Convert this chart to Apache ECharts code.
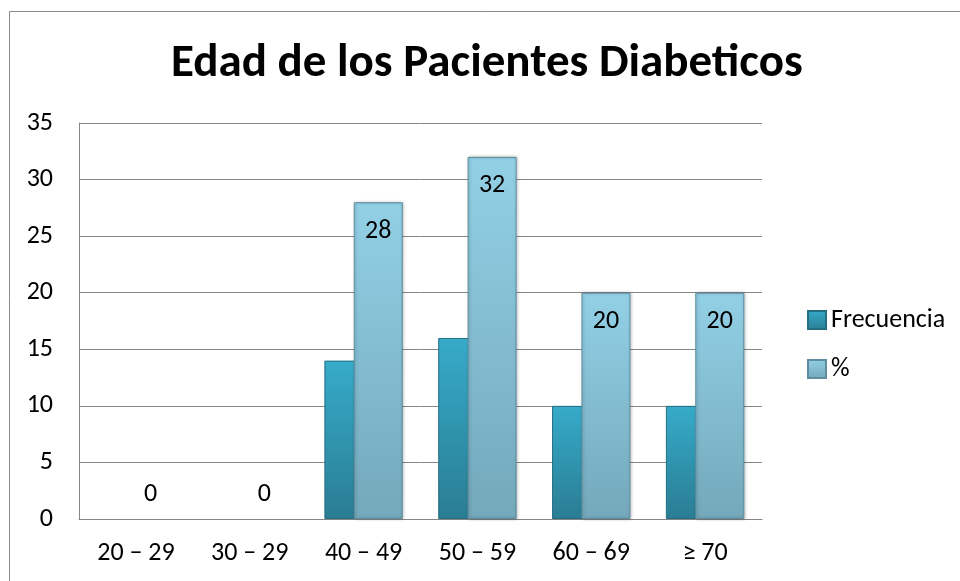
<!DOCTYPE html>
<html>
<head>
<meta charset="utf-8">
<script src="https://cdn.jsdelivr.net/npm/echarts@6/dist/echarts.min.js"></script>
<style>
  html, body { margin: 0; padding: 0; background: #fff; }
  #chart { width: 960px; height: 581px; }
</style>
</head>
<body>
<div id="chart"></div>
<script>
// rangos de edad
var categories = ["20 – 29", "30 – 29", "40 – 49", "50 – 59", "60 – 69", "≥ 70"];
var frecuencia = [0, 0, 14, 16, 10, 10];
var porcentaje = [0, 0, 28, 32, 20, 20];
var yTicks = { min: 0, max: 35, interval: 5 };

var FONT = "Carlito, Lato, sans-serif";

var chart = echarts.init(document.getElementById("chart"));

// barras en cero: sin borde; la etiqueta del % va encima
function toItems(values, withLabel) {
  return values.map(function(v) {
    if (v !== 0) return v;
    var item = {
      value: v,
      itemStyle: { color: "transparent", borderWidth: 0, shadowBlur: 0, shadowOffsetX: 0 }
    };
    if (withLabel) item.label = { position: "top", distance: 12 };
    return item;
  });
}

var option = {
  backgroundColor: "#ffffff",
  animation: false,
  title: {
    text: "Edad de los Pacientes Diabeticos",
    left: 166,
    top: 36,
    textStyle: {
      fontFamily: FONT,
      fontWeight: "bold",
      fontSize: 47,
      color: "#000"
    }
  },
  graphic: [
    {
      type: "rect",
      shape: { x: 9.5, y: 11.5, width: 980, height: 600 },
      style: { fill: "none", stroke: "#8a8a8a", lineWidth: 1 },
      silent: true
    }
  ],
  legend: {
    orient: "vertical",
    left: 802,
    top: 302,
    icon: "rect",
    itemWidth: 18,
    itemHeight: 18,
    itemGap: 23,
    textStyle: { fontFamily: FONT, fontSize: 26, color: "#000" },
    data: ["Frecuencia", "%"]
  },
  grid: {
    left: 79,
    right: 198,
    top: 123,
    bottom: 62,
    containLabel: false
  },
  xAxis: {
    type: "category",
    data: categories,
    axisLine: { lineStyle: { color: "#868686", width: 1 } },
    axisTick: { show: false },
    axisLabel: {
      fontFamily: FONT,
      fontSize: 26,
      color: "#000",
      margin: 21
    }
  },
  yAxis: {
    type: "value",
    min: yTicks.min,
    max: yTicks.max,
    interval: yTicks.interval,
    axisLine: { show: true, lineStyle: { color: "#868686", width: 1 } },
    axisTick: { show: false },
    splitLine: { lineStyle: { color: "#868686", width: 1 } },
    axisLabel: {
      fontFamily: FONT,
      fontSize: 26,
      color: "#000",
      margin: 26
    }
  },
  series: [
    {
      name: "Frecuencia",
      type: "bar",
      data: toItems(frecuencia, false),
      barWidth: 49,
      barGap: "-40%",
      itemStyle: {
        color: new echarts.graphic.LinearGradient(0, 0, 0, 1, [
          { offset: 0, color: "#36abca" },
          { offset: 1, color: "#2a7d93" }
        ]),
        borderColor: "#246e82",
        borderWidth: 1
      }
    },
    {
      name: "%",
      type: "bar",
      data: toItems(porcentaje, true),
      barWidth: 49,
      itemStyle: {
        color: new echarts.graphic.LinearGradient(0, 0, 0, 1, [
          { offset: 0, color: "#92d0e6" },
          { offset: 1, color: "#74a8bb" }
        ]),
        borderColor: "#5d8d9e",
        borderWidth: 1,
        shadowColor: "rgba(0,0,0,0.25)",
        shadowBlur: 3,
        shadowOffsetX: 1
      },
      label: {
        show: true,
        position: "insideTop",
        distance: 16,
        fontFamily: FONT,
        fontSize: 26,
        color: "#000"
      }
    }
  ]
};

chart.setOption(option);
</script>
</body>
</html>
